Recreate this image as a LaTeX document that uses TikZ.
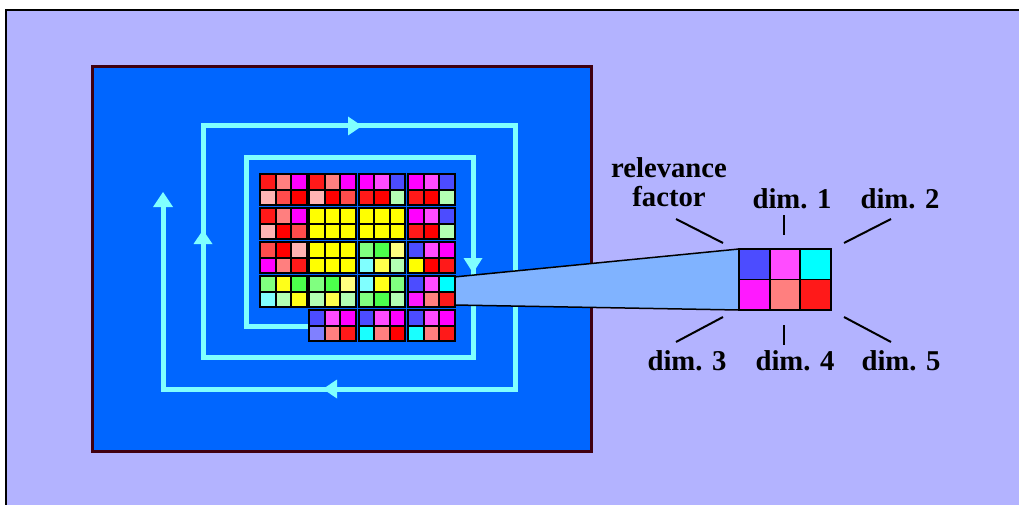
\documentclass[tikz,border=0pt]{standalone}
\usepackage{fontspec}
\setmainfont{Liberation Serif}
\definecolor{lav}{HTML}{B3B3FF}
\definecolor{boxblue}{HTML}{0066FF}
\definecolor{boxrim}{HTML}{400010}
\definecolor{spir}{HTML}{80FFFF}
\definecolor{wedge}{HTML}{80B3FF}
\definecolor{redA}{HTML}{FF1919}
\definecolor{redB}{HTML}{FF0000}
\definecolor{salm}{HTML}{FF7F7F}
\definecolor{magA}{HTML}{FF00FF}
\definecolor{magB}{HTML}{FF19FF}
\definecolor{pmag}{HTML}{FF4CFF}
\definecolor{blu}{HTML}{4C4CFF}
\definecolor{vio}{HTML}{8080FF}
\definecolor{lpink}{HTML}{FFB3B3}
\definecolor{lred}{HTML}{FF4C4C}
\definecolor{lgrn}{HTML}{B3FFB3}
\definecolor{grnA}{HTML}{80FF80}
\definecolor{grnB}{HTML}{4CFF4C}
\definecolor{yel}{HTML}{FFFF00}
\definecolor{yelA}{HTML}{FFFF19}
\definecolor{yelB}{HTML}{FFFF4C}
\definecolor{yelC}{HTML}{FFFF80}
\definecolor{cynA}{HTML}{80FFFF}
\definecolor{cynB}{HTML}{19FFFF}
\definecolor{cyn}{HTML}{00FFFF}
\newcommand\myblk[8]{%
  \begin{scope}[shift={(#1,#2)}]
  \path[cellst,fill=#3] (0,0) rectangle (15.56,15.65);
  \path[cellst,fill=#4] (15.56,0) rectangle (31.11,15.65);
  \path[cellst,fill=#5] (31.11,0) rectangle (46.67,15.65);
  \path[cellst,fill=#6] (0,15.65) rectangle (15.56,31.3);
  \path[cellst,fill=#7] (15.56,15.65) rectangle (31.11,31.3);
  \path[cellst,fill=#8] (31.11,15.65) rectangle (46.67,31.3);
  \end{scope}}
\begin{document}
\begin{tikzpicture}[x=1pt,y=-1pt,
  lbl/.style={font=\fontsize{28.7}{29}\selectfont\bfseries, inner sep=0pt},
  tick/.style={line width=2pt, black},
  cellst/.style={draw=black, line width=2pt},
  spiral/.style={draw=spir, line width=5pt, line join=miter},
  ahead/.style={fill=spir}]
\useasboundingbox (0,0) rectangle (1019,505);
\fill[white] (0,0) rectangle (1019,505);
\fill[lav] (6,10) rectangle (1019,505);
\draw[black, line width=1.5pt] (6,505) -- (6,10) -- (1019,10);
% dark box
\draw[fill=boxblue, draw=boxrim, line width=3pt] (92,66.5) rectangle (591,451);
% spiral
\draw[spiral] (309,326) -- (246,326) -- (246,158) -- (473,158) -- (473,357)
  -- (203,357) -- (203,126) -- (515,126) -- (515,389) -- (163,389) -- (163,206);
\fill[ahead] (463.5,258) -- (482.5,258) -- (473,273) -- cycle;
\fill[ahead] (193.5,244) -- (212.5,244) -- (203,230) -- cycle;
\fill[ahead] (348,116.5) -- (348,135.5) -- (362,126) -- cycle;
\fill[ahead] (337,379.5) -- (337,398.5) -- (323,389) -- cycle;
\fill[ahead] (153,207) -- (173,207) -- (163,192) -- cycle;
% wedge
\coordinate (wl1) at (454,277);
\coordinate (wl2) at (454,305);
\coordinate (gnw) at (739,249);
\coordinate (gsw) at (739,310);
\draw[fill=wedge, line width=1.5pt, line join=miter] (wl1) -- (gnw) -- (gsw) -- (wl2) -- cycle;
% big grid
\myblk{260}{174}{redA}{salm}{magA}{lpink}{lred}{redB}
\myblk{309.3}{174}{redA}{salm}{magA}{lpink}{redB}{lred}
\myblk{358.7}{174}{magA}{pmag}{blu}{redA}{redB}{lgrn}
\myblk{408}{174}{magA}{pmag}{blu}{redA}{redB}{lgrn}
\myblk{260}{208}{redA}{salm}{magA}{lpink}{redB}{lred}
\myblk{309.3}{208}{yel}{yel}{yel}{yel}{yel}{yel}
\myblk{358.7}{208}{yel}{yel}{yel}{yel}{yel}{yel}
\myblk{408}{208}{magA}{pmag}{blu}{redA}{redB}{lgrn}
\myblk{260}{242}{lred}{redB}{lpink}{magA}{salm}{redA}
\myblk{309.3}{242}{yel}{yel}{yel}{yel}{yel}{yel}
\myblk{358.7}{242}{grnA}{grnB}{yelC}{cynA}{yelB}{lgrn}
\myblk{408}{242}{blu}{pmag}{magA}{yel}{redB}{redA}
\myblk{260}{276}{grnA}{yelA}{grnB}{cynA}{lgrn}{yelA}
\myblk{309.3}{276}{grnA}{grnB}{yelC}{lgrn}{yelB}{lgrn}
\myblk{358.7}{276}{cynA}{yelA}{grnA}{grnA}{grnB}{lgrn}
\myblk{408}{276}{blu}{pmag}{cyn}{magB}{salm}{redA}
\myblk{309.3}{310}{blu}{pmag}{magA}{vio}{salm}{redA}
\myblk{358.7}{310}{blu}{pmag}{magA}{cynB}{salm}{redB}
\myblk{408}{310}{blu}{pmag}{magA}{cynB}{salm}{redA}
% small grid
\begin{scope}[cellst/.style={draw=black, line width=1.8pt}]
\path[cellst,fill=blu]  (739,249) rectangle (769.67,279.5);
\path[cellst,fill=pmag] (769.67,249) rectangle (800.33,279.5);
\path[cellst,fill=cyn]  (800.33,249) rectangle (831,279.5);
\path[cellst,fill=magB] (739,279.5) rectangle (769.67,310);
\path[cellst,fill=salm] (769.67,279.5) rectangle (800.33,310);
\path[cellst,fill=redA] (800.33,279.5) rectangle (831,310);
\end{scope}
% labels
\node[lbl, anchor=south, text depth=0pt, align=center] (rel) at (669,207) {relevance\\factor};
\node[lbl, anchor=base] (d1) at (792,208) {dim. 1};
\node[lbl, anchor=base] (d2) at (900,208) {dim. 2};
\node[lbl, anchor=base] (d3) at (687,370) {dim. 3};
\node[lbl, anchor=base] (d4) at (795,370) {dim. 4};
\node[lbl, anchor=base] (d5) at (901,370) {dim. 5};
% ticks
\draw[tick] (676,219) -- (723,243);
\draw[tick] (784,215) -- (784,235);
\draw[tick] (891,219) -- (844,243);
\draw[tick] (723,317) -- (676,342);
\draw[tick] (784,325) -- (784,345);
\draw[tick] (844,317) -- (891,342);
\end{tikzpicture}
\end{document}
